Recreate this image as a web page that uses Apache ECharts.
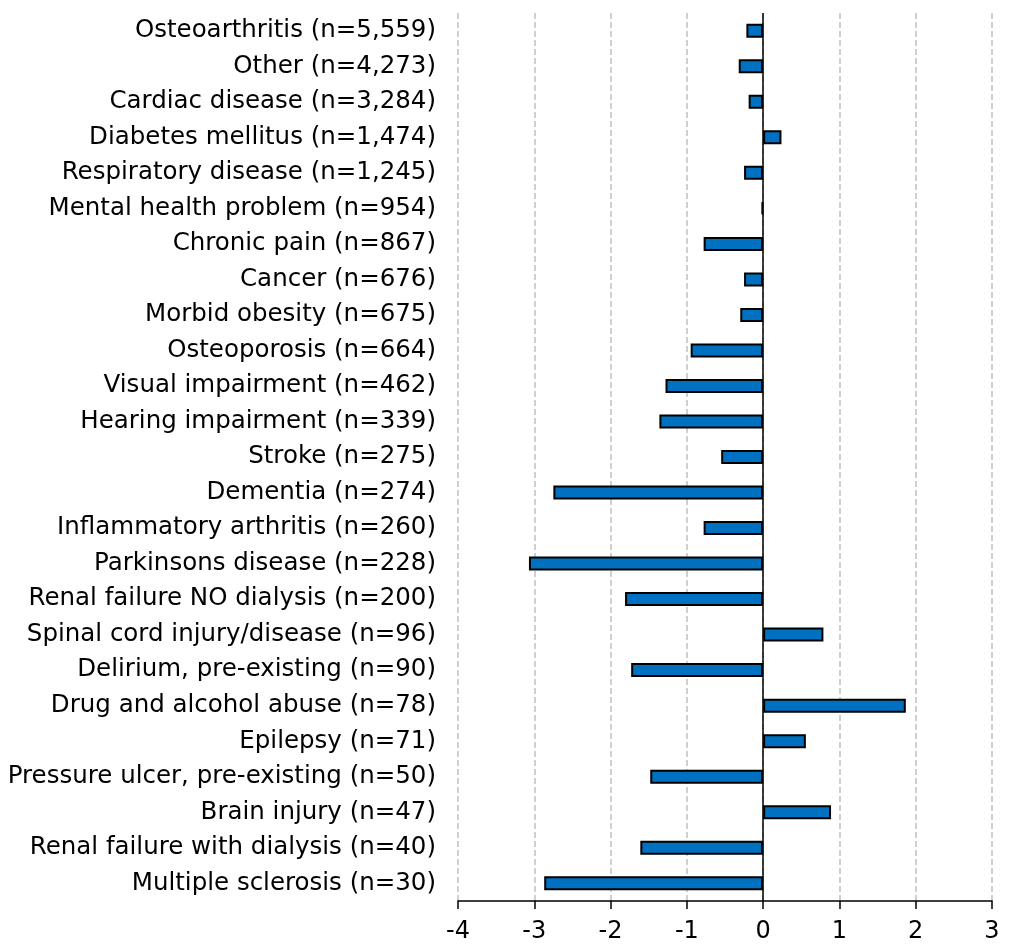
<!DOCTYPE html>
<html>
<head>
<meta charset="utf-8">
<script src="https://cdn.jsdelivr.net/npm/echarts@6/dist/echarts.min.js"></script>
<style>html,body{margin:0;padding:0;background:#fff;}#c{width:1009px;height:944px;}</style>
</head>
<body>
<div id="c"></div>
<script>
const categories = [
  "Osteoarthritis (n=5,559)",
  "Other (n=4,273)",
  "Cardiac disease (n=3,284)",
  "Diabetes mellitus (n=1,474)",
  "Respiratory disease (n=1,245)",
  "Mental health problem (n=954)",
  "Chronic pain (n=867)",
  "Cancer (n=676)",
  "Morbid obesity (n=675)",
  "Osteoporosis (n=664)",
  "Visual impairment (n=462)",
  "Hearing impairment (n=339)",
  "Stroke (n=275)",
  "Dementia (n=274)",
  "Inflammatory arthritis (n=260)",
  "Parkinsons disease (n=228)",
  "Renal failure NO dialysis (n=200)",
  "Spinal cord injury/disease (n=96)",
  "Delirium, pre-existing (n=90)",
  "Drug and alcohol abuse (n=78)",
  "Epilepsy (n=71)",
  "Pressure ulcer, pre-existing (n=50)",
  "Brain injury (n=47)",
  "Renal failure with dialysis (n=40)",
  "Multiple sclerosis (n=30)"
];
const values = [
  -0.22, -0.32, -0.19, 0.24, -0.25, -0.02, -0.78, -0.25, -0.30, -0.95,
  -1.28, -1.36, -0.55, -2.75, -0.78, -3.07, -1.81, 0.79, -1.73, 1.87,
  0.56, -1.48, 0.89, -1.61, -2.87
];
const xMin = -4, xMax = 3, xStep = 1;

const chart = echarts.init(document.getElementById('c'));
const font = 'DejaVu Sans';
chart.setOption({
  animation: false,
  grid: {left: 458, right: 17, top: 13, bottom: 42, containLabel: false},
  xAxis: {
    type: 'value', min: xMin, max: xMax, interval: xStep,
    axisLine: {show: true, lineStyle: {color: '#000', width: 1.5}},
    axisTick: {show: true, length: 8, lineStyle: {color: '#000', width: 1.5}},
    axisLabel: {color: '#000', fontSize: 24, fontFamily: font, margin: 19},
    splitLine: {show: true, lineStyle: {color: '#c0c0c0', type: 'dashed', width: 1.5}}
  },
  yAxis: {
    type: 'category', data: categories, inverse: true,
    axisLine: {show: false}, axisTick: {show: false},
    axisLabel: {color: '#000', fontSize: 24.5, fontFamily: font, margin: 22}
  },
  series: [{
    type: 'bar', data: values, barWidth: 14,
    itemStyle: {color: '#0070C0', borderColor: '#000', borderWidth: 2},
    markLine: {
      silent: true, symbol: ['none', 'none'], label: {show: false},
      lineStyle: {color: '#000', type: 'solid', width: 1.5},
      data: [{xAxis: 0}]
    }
  }]
});
</script>
</body>
</html>
